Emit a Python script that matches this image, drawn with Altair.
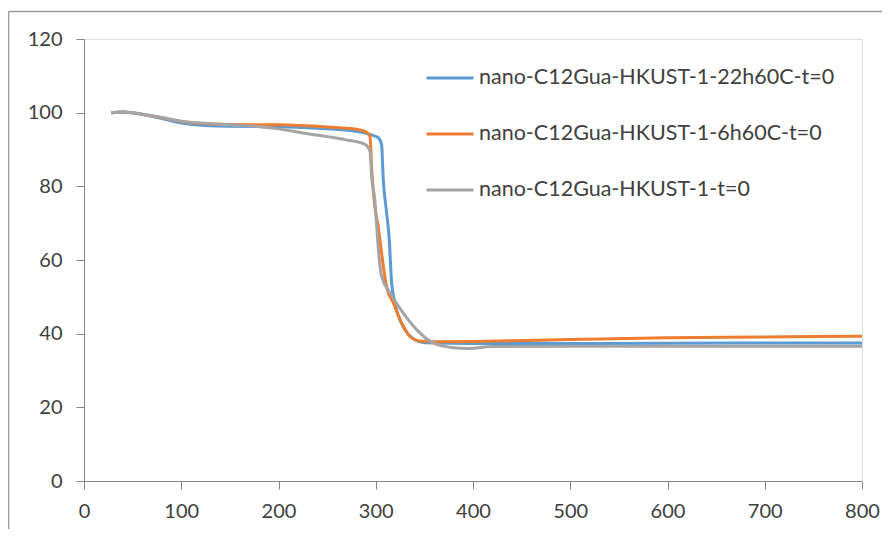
import altair as alt
import pandas as pd

names = [
    "nano-C12Gua-HKUST-1-22h60C-t=0",
    "nano-C12Gua-HKUST-1-6h60C-t=0",
    "nano-C12Gua-HKUST-1-t=0",
]
colors = ["#5B9BD5", "#ED7D31", "#A5A5A5"]

blue_x = [28, 40, 60, 80, 100, 125, 150, 200, 250, 280, 295, 302.6, 306, 307.7, 311.2, 313.9, 316.3, 319.7, 330, 340, 350, 400, 500, 600, 700, 800]
blue_y = [100, 100.2, 99.5, 98.4, 97.2, 96.5, 96.3, 96.2, 95.6, 94.9, 94.0, 93.2, 91.4, 81.9, 72.8, 65.6, 53.8, 48.4, 41.1, 38.4, 37.5, 37.3, 37.3, 37.4, 37.5, 37.5]

orange_x = [28, 40, 60, 80, 100, 125, 150, 200, 250, 280, 290, 294, 296, 299, 302.6, 305, 311, 318, 326.6, 335, 345, 360, 400, 500, 600, 700, 800]
orange_y = [100, 100.2, 99.6, 98.6, 97.6, 97.0, 96.8, 96.7, 96.1, 95.5, 94.8, 93.6, 84, 74.6, 69, 64, 52.9, 48.4, 42.9, 39.3, 38.0, 37.8, 37.9, 38.4, 38.9, 39.1, 39.3]

gray_x = [28, 40, 60, 80, 100, 125, 150, 175, 200, 225, 250, 270, 289, 294, 296, 299, 301, 303, 306, 314.6, 328, 342, 359, 380, 395, 420, 500, 600, 700, 800]
gray_y = [100, 100.2, 99.6, 98.7, 97.7, 97.1, 96.7, 96.3, 95.6, 94.5, 93.5, 92.6, 91.4, 89.5, 81.9, 76.4, 69, 62, 55.6, 51.1, 45.7, 41.1, 37.5, 36.2, 36.0, 36.5, 36.6, 36.6, 36.6, 36.6]

x_ticks = [0, 100, 200, 300, 400, 500, 600, 700, 800]
y_ticks = [0, 20, 40, 60, 80, 100, 120]

rows = []
for nm, xs, ys in zip(names, [blue_x, orange_x, gray_x], [blue_y, orange_y, gray_y]):
    for i, (a, b) in enumerate(zip(xs, ys)):
        rows.append({"series": nm, "x": a, "y": b, "order": i})
df = pd.DataFrame(rows)

FONT = "Lato"
AX = "#868686"
TXT = "#404040"

lines = alt.Chart(df).mark_line(strokeWidth=3, interpolate="monotone").encode(
    x=alt.X("x:Q", scale=alt.Scale(domain=[0, 800], nice=False),
            axis=alt.Axis(values=x_ticks, title=None, grid=False, domainColor=AX,
                          tickColor=AX, tickSize=8, labelFontSize=20, labelFont=FONT,
                          labelColor=TXT, labelPadding=12, labelFlush=False)),
    y=alt.Y("y:Q", scale=alt.Scale(domain=[0, 120], nice=False),
            axis=alt.Axis(values=y_ticks, title=None, grid=False, domainColor=AX,
                          tickColor=AX, tickSize=8, labelFontSize=20, labelFont=FONT,
                          labelColor=TXT, labelPadding=14)),
    color=alt.Color("series:N", scale=alt.Scale(domain=names, range=colors),
                    legend=alt.Legend(title=None, orient="none", legendX=341, legendY=14,
                                      symbolType="stroke", symbolSize=2209,
                                      symbolStrokeWidth=3, labelFontSize=21.5,
                                      labelFont=FONT, labelColor=TXT, labelOffset=4,
                                      rowPadding=20, labelLimit=500)),
    order="order:Q",
)

frame_v = alt.Chart(pd.DataFrame({"k": [0]})).mark_rule(color="#9a9a9a", strokeWidth=1.5, clip=False).encode(
    x=alt.value(-75.5), y=alt.value(-27.5), y2=alt.value(520))
frame_h = alt.Chart(pd.DataFrame({"k": [0]})).mark_rule(color="#9a9a9a", strokeWidth=1.5, clip=False).encode(
    x=alt.value(-75.5), x2=alt.value(830), y=alt.value(-27.5))

chart = alt.layer(lines, frame_v, frame_h).properties(
    width=778, height=442,
    padding={"left": 76, "top": 31, "right": 20, "bottom": 48},
    autosize=alt.AutoSizeParams(type="none"),
).configure_view(stroke=None).configure(font=FONT)

chart.save("out.html", embed_options={"renderer": "svg", "actions": False})
